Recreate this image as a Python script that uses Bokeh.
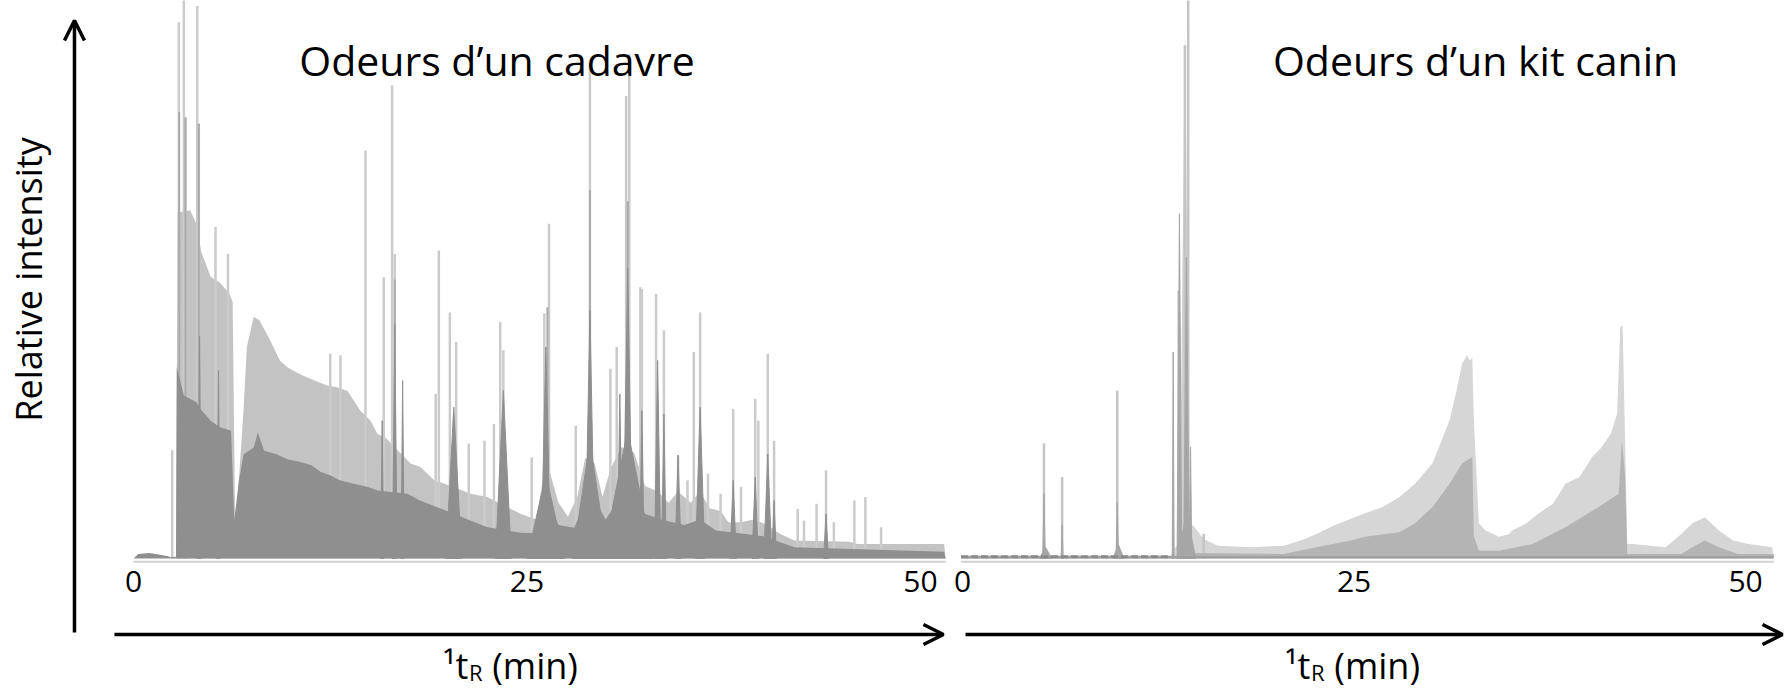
import math
from bokeh.plotting import figure
from bokeh.models import Range1d, Label, Arrow, OpenHead
from bokeh.core.properties import value
from bokeh.embed import file_html
from bokeh.resources import INLINE

# ---------------- data (retention time in min, relative intensity) ----------------
# Left panel: "Odeurs d'un cadavre"
LEFT_LIGHT_T = [2.70, 2.80, 3.6, 4.0, 4.3, 4.9, 5.5, 6.1, 6.3, 6.45, 6.6, 7.0, 7.2, 7.64, 8.0, 8.7, 9.3,
                9.76, 10.4, 11.0, 11.5, 12.3, 12.94, 13.6, 14.4, 15.06, 15.5, 16.0, 17.6, 18.23, 19.1,
                20.35, 21.41, 22.47, 24.59, 25.6, 26.0, 26.4, 27.0, 27.6, 28.2, 28.7, 29.3, 29.8, 30.3,
                31.0, 31.8, 32.5, 33.3, 34.0, 34.6, 35.4, 36.0, 36.6, 37.3, 37.8, 38.6, 39.4, 40.3, 41.0,
                42.0, 45.5, 46.0, 51.5, 51.6]
LEFT_LIGHT_H = [0, 62, 62.4, 60, 55, 50.5, 49.4, 47.4, 46, 8, 10, 27, 37.9, 43.3, 42.7, 39, 35.5,
                34.3, 33.3, 32.5, 31.9, 31, 30.7, 30, 26.5, 24.7, 22.3, 21.7, 17, 16.4, 14,
                12.8, 11.6, 11, 8, 7, 14, 16, 10, 7.5, 11, 18, 17, 11, 16,
                20, 19, 13, 12, 10, 12, 10, 12, 9, 8.5, 6.5, 6.5, 7, 6, 4.5,
                3.2, 3, 2.6, 2.6, 0]

LEFT_DARK_T = [0.0, 0.3, 1.0, 1.6, 2.2, 2.35, 2.70, 2.75, 3.2, 4.0, 4.26, 4.9, 5.5, 6.2, 6.4, 6.7, 7.0,
               7.64, 7.9, 8.3, 9.1, 9.76, 10.6, 11.3, 11.9, 12.5, 13.1, 14.0, 14.9, 15.5, 17.4, 18.2,
               19.3, 20.35, 21.4, 22.5, 24.6, 25.6, 26.2, 27.0, 28.0, 29.0, 30.0, 31.4, 32.5, 33.5,
               35.0, 36.0, 37.0, 38.5, 40.0, 42.0, 51.5, 51.6]
LEFT_DARK_H = [0, 0.8, 1.0, 0.7, 0.4, 0.2, 0.3, 34.3, 29.2, 28.0, 26.8, 24.7, 23.5, 22.9, 6.8, 14.0, 18.7,
               19.9, 22.6, 19.3, 18.7, 17.8, 17.3, 16.7, 15.5, 14.9, 14.0, 13.4, 12.8, 12.2, 11.6, 10.4,
               9.2, 8.0, 6.8, 5.6, 4.6, 4.5, 11, 6, 5.5, 12, 7, 13, 8, 7,
               6, 7, 5, 4.5, 4, 2, 1.2, 0]

LEFT_SPIKE_T = [2.46, 2.88, 3.2, 3.3, 4.05, 4.15, 5.21, 6.0, 12.5, 13.15, 14.74, 15.9, 16.43, 16.6,
                19.2, 19.4, 20.1, 20.5, 21.3, 22.3, 22.9, 23.3, 23.5, 25.3, 26.1, 26.4, 28.1, 29.0,
                30.3, 30.7, 31.3, 31.5, 32.2, 32.3, 33.2, 33.7, 34.6, 35.2, 35.6, 36.0, 36.5, 37.3,
                38.1, 38.6, 39.5, 39.7, 40.3, 40.7, 42.2, 42.6, 43.4, 44.0, 44.5, 45.8, 46.5, 47.5]
LEFT_SPIKE_H = [19.4, 96.1, 105, 79.1, 99, 77.9, 59.4, 54.6, 36.7, 36.4, 73.1, 50.4, 84.8, 54.6,
                29.5, 55.2, 44.1, 38.8, 20.6, 21.1, 24.1, 42.4, 37.3, 18.1, 43.9, 60.0, 23.8, 88.9,
                34.0, 37.9, 82.9, 90.4, 48.6, 48.3, 47.4, 40.9, 18.5, 14, 37.0, 44.1, 15.2, 11.6,
                26.8, 12.8, 28.6, 24.7, 36.7, 21.1, 8.9, 6.8, 9.8, 15.8, 6.5, 10.4, 11.0, 5.6]

LEFT_MID_T = [2.9, 3.3, 4.15, 16.6, 26.3, 29.0, 31.4]
LEFT_MID_H = [80, 79, 77.9, 50, 45, 66, 64]

LEFT_PEAK_T = [4.2, 5.4, 15.8, 16.6, 17.1, 20.35, 23.5, 26.2, 26.2, 29.0, 29.0, 30.9, 31.4, 31.4,
               32.3, 33.3, 33.7, 34.6, 36.0, 38.1, 39.5, 40.3, 40.7, 44.0]
LEFT_PEAK_H = [39.9, 33.7, 24.7, 42.0, 31.9, 27.1, 30.1, 37.9, 15, 44.4, 21, 29.5, 52, 23,
               26.5, 35.5, 25.9, 18.5, 27.1, 14, 14.6, 18.7, 10.4, 8.0]
LEFT_PEAK_W = [0.1, 0.1, 0.1, 0.15, 0.1, 0.5, 0.5, 0.3, 1.2, 0.3, 1.1, 0.15, 0.3, 1.6,
               0.15, 0.2, 0.15, 0.2, 0.3, 0.2, 0.2, 0.25, 0.15, 0.15]

# Right panel: "Odeurs d'un kit canin"
RIGHT_LIGHT_T = [-0.1, 13.3, 13.6, 14.7, 15.4, 16.3, 18.4, 20.5, 21.6, 22.6, 23.7, 24.8, 25.7, 26.8,
                 27.9, 28.9, 30.0, 30.6, 31.1, 31.5, 31.9, 32.2, 32.4, 32.55, 32.65, 32.97, 33.4,
                 34.25, 34.9, 35.1, 36.0, 36.8, 37.7, 38.5, 39.4, 40.2, 40.8, 41.4, 41.8, 42.0,
                 42.15, 42.3, 42.45, 42.8, 44.9, 45.9, 46.6, 47.4, 48.3, 49.2, 50.2, 51.7, 51.8]
RIGHT_LIGHT_H = [0.6, 0.6, 2, 6, 3.5, 2.3, 2.0, 2.3, 3.2, 4.4, 5.9, 7.1, 8.1, 9.2,
                 11.0, 13.4, 17.0, 21.2, 24.8, 29.5, 34.9, 36.4, 35.5, 36.0, 24.8, 6.3, 5.0,
                 3.9, 4.4, 5.0, 6.3, 8.1, 9.8, 13.4, 14.6, 18.2, 19.9, 22.4, 26.0, 41.5,
                 41.8, 22, 2.6, 2.6, 2.0, 4.4, 6.3, 7.4, 5.0, 3.2, 2.6, 2.0, 0]

RIGHT_DARK_T = [-0.1, 13.3, 14.8, 20.5, 22.6, 24.8, 25.7, 27.9, 28.9, 30.0, 31.1, 31.9, 32.55, 32.65,
                32.97, 34.25, 36.4, 38.5, 40.6, 41.9, 42.1, 42.3, 42.45, 45.9, 46.6, 47.4, 48.3,
                49.5, 51.8]
RIGHT_DARK_H = [0.4, 0.4, 1.0, 0.8, 2.0, 3.2, 3.9, 4.7, 6.3, 9.2, 13.4, 17.0, 18.2, 4,
                1.4, 1.4, 2.6, 5.6, 9.2, 11.6, 21.2, 15, 0.8, 0.8, 2.0, 3.2, 2.0,
                0.8, 0.8]

RIGHT_SPIKE_T = [5.2, 6.36, 9.88, 13.8, 14.2, 14.41, 15.4]
RIGHT_SPIKE_H = [20.6, 14.6, 30.1, 48, 92, 110, 4.4]

RIGHT_BODY_T = [14.2]
RIGHT_BODY_H = [95]
RIGHT_BODY_W = [0.35]

RIGHT_PEAK_T = [5.2, 5.3, 6.36, 9.88, 9.95, 13.45, 13.85, 14.3, 14.56, 14.3]
RIGHT_PEAK_H = [11.6, 2.0, 6.0, 10.0, 2.5, 37, 61.8, 54, 20, 8]
RIGHT_PEAK_W = [0.08, 0.4, 0.06, 0.08, 0.35, 0.06, 0.15, 0.18, 0.08, 0.6]

TICKS = [0, 25, 50]
TITLES = ["Odeurs d\u2019un cadavre", "Odeurs d\u2019un kit canin"]
Y_LABEL = "Relative intensity"

FONT = "Open Sans"


def tri(ts, hs, ws):
    xs = [[t - w, t, t + w] for t, w in zip(ts, ws)]
    ys = [[0, h, 0] for h in hs]
    return xs, ys


p = figure(width=1785, height=691, output_backend="svg", toolbar_location=None,
           x_range=Range1d(-8.45, 104.96), y_range=Range1d(-23.84, 100),
           x_axis_location=None, y_axis_location=None, min_border=0)
p.extra_x_ranges = {"right": Range1d(-61.43, 52.55)}
p.outline_line_color = None
p.grid.visible = False
p.background_fill_color = "white"
p.border_fill_color = "white"

# ---- left chromatogram ----
p.varea(x=LEFT_LIGHT_T, y1=0, y2=LEFT_LIGHT_H, fill_color="#c3c3c3")
p.segment(x0=LEFT_SPIKE_T, y0=0, x1=LEFT_SPIKE_T, y1=LEFT_SPIKE_H, line_color="#cbcbcb", line_width=2.5)
p.segment(x0=LEFT_MID_T, y0=0, x1=LEFT_MID_T, y1=LEFT_MID_H, line_color="#ababab", line_width=2)
p.varea(x=LEFT_DARK_T, y1=0, y2=LEFT_DARK_H, fill_color="#8f8f8f")
lx, ly = tri(LEFT_PEAK_T, LEFT_PEAK_H, LEFT_PEAK_W)
p.patches(xs=lx, ys=ly, fill_color="#8f8f8f", line_color="#8f8f8f", line_width=1)
p.line(x=[LEFT_DARK_T[0], LEFT_DARK_T[-1]], y=[-0.6, -0.6], line_color="#d2d2d2", line_width=2)

# ---- right chromatogram ----
p.varea(x=RIGHT_LIGHT_T, y1=0, y2=RIGHT_LIGHT_H, fill_color="#d6d6d6", x_range_name="right")
bx, by = tri(RIGHT_BODY_T, RIGHT_BODY_H, RIGHT_BODY_W)
p.patches(xs=bx, ys=by, fill_color="#d2d2d2", line_color=None, x_range_name="right")
p.segment(x0=RIGHT_SPIKE_T, y0=0, x1=RIGHT_SPIKE_T, y1=RIGHT_SPIKE_H, line_color="#c4c4c4",
          line_width=2.5, x_range_name="right")
p.varea(x=RIGHT_DARK_T, y1=0, y2=RIGHT_DARK_H, fill_color="#b4b4b4", x_range_name="right")
rx, ry = tri(RIGHT_PEAK_T, RIGHT_PEAK_H, RIGHT_PEAK_W)
p.patches(xs=rx, ys=ry, fill_color="#a6a6a6", line_color="#a6a6a6", line_width=1, x_range_name="right")
p.line(x=[RIGHT_DARK_T[0], RIGHT_DARK_T[-1]], y=[0.2, 0.2], line_color="#9c9c9c", line_width=2,
       x_range_name="right")
p.line(x=[RIGHT_DARK_T[0], RIGHT_DARK_T[1]], y=[0.3, 0.3], line_color="#8a8a8a", line_width=3,
       line_dash="7 3", x_range_name="right")
p.line(x=[RIGHT_DARK_T[0], RIGHT_DARK_T[-1]], y=[-0.6, -0.6], line_color="#d2d2d2", line_width=2,
       x_range_name="right")

# ---- tick labels ----
tick_y = [-4.12] * len(TICKS)
p.text(x=TICKS, y=tick_y, text=[str(t) for t in TICKS], text_font=value(FONT),
       text_font_size=value("30px"), text_align="center", text_baseline="middle", text_color="black")
p.text(x=TICKS, y=tick_y, text=[str(t) for t in TICKS], text_font=value(FONT),
       text_font_size=value("30px"), text_align="center", text_baseline="middle", text_color="black",
       x_range_name="right")

# ---- titles ----
p.add_layout(Label(x=23.1, y=89.4, text=TITLES[0], text_font=FONT, text_font_size="41px",
                   text_align="center", text_baseline="alphabetic", text_color="black"))
p.add_layout(Label(x=32.76, y=89.4, text=TITLES[1], text_font=FONT, text_font_size="41px",
                   text_align="center", text_baseline="alphabetic", text_color="black",
                   x_range_name="right"))

# ---- y label + arrow ----
p.add_layout(Label(x=-6.67, y=50, text=Y_LABEL, angle=math.pi / 2, text_font=FONT,
                   text_font_size="36px", text_align="center", text_baseline="middle",
                   text_color="black"))
p.add_layout(Arrow(x_start=-3.75, y_start=-13.26, x_end=-3.75, y_end=96.4, line_width=3.5,
                   line_color="black", end=OpenHead(size=20, line_width=3.5, line_color="black")))

# ---- x arrows ----
p.add_layout(Arrow(x_start=-1.21, y_start=-13.62, x_end=51.46, y_end=-13.62, line_width=3.5,
                   line_color="black", end=OpenHead(size=20, line_width=3.5, line_color="black")))
p.add_layout(Arrow(x_start=0.19, y_start=-13.62, x_end=52.36, y_end=-13.62, line_width=3.5,
                   line_color="black", end=OpenHead(size=20, line_width=3.5, line_color="black"),
                   x_range_name="right"))

# ---- x labels: 1tR (min) ----
for cx, rng in ((23.95, "default"), (24.9, "right")):
    p.add_layout(Label(x=cx, y=-19.2, x_offset=-67.5, text="\u00b9t", text_font=FONT,
                       text_font_size="36px", text_align="left", text_baseline="middle",
                       text_color="black", x_range_name=rng))
    p.add_layout(Label(x=cx, y=-20.4, x_offset=-41.5, text="R", text_font=FONT,
                       text_font_size="22px", text_align="left", text_baseline="middle",
                       text_color="black", x_range_name=rng))
    p.add_layout(Label(x=cx, y=-19.2, x_offset=-18.2, text="(min)", text_font=FONT,
                       text_font_size="36px", text_align="left", text_baseline="middle",
                       text_color="black", x_range_name=rng))

open("out.html", "w").write(file_html(p, INLINE))
